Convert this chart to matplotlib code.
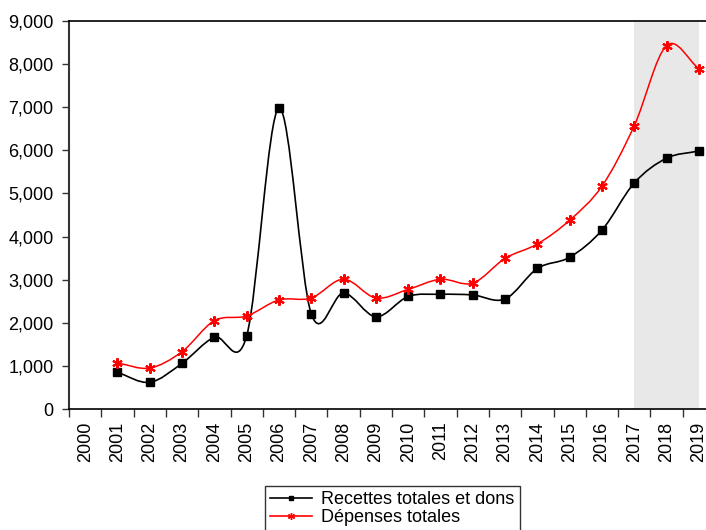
import matplotlib
matplotlib.use("Agg")
import matplotlib.pyplot as plt
import numpy as np
from matplotlib.path import Path
from matplotlib.patches import PathPatch
from matplotlib.lines import Line2D
from matplotlib.ticker import FuncFormatter, FixedLocator

plt.rcParams['font.family'] = ['Liberation Sans', 'DejaVu Sans']

# --- données ---
years = [2001, 2002, 2003, 2004, 2005, 2006, 2007, 2008, 2009, 2010,
         2011, 2012, 2013, 2014, 2015, 2016, 2017, 2018, 2019]
recettes = [850, 620, 1060, 1665, 1695, 6980, 2205, 2690, 2140, 2610,
            2660, 2645, 2552, 3260, 3520, 4150, 5244, 5817, 5986]
depenses = [1067, 951, 1330, 2049, 2158, 2530, 2575, 3012, 2575, 2775,
            3010, 2920, 3495, 3828, 4380, 5170, 6573, 8430, 7896]
label_years = list(range(2000, 2020))
shade_span = (2017, 2019)


def spline_path(x, y):
    # courbe lissée (Catmull-Rom converti en Bezier cubique)
    x = np.asarray(x, float)
    y = np.asarray(y, float)
    n = len(x)
    m = np.empty(n)
    m[1:-1] = (y[2:] - y[:-2]) / 2
    m[0] = y[1] - y[0]
    m[-1] = y[-1] - y[-2]
    verts = [(x[0], y[0])]
    codes = [Path.MOVETO]
    for i in range(n - 1):
        dx = x[i + 1] - x[i]
        verts += [(x[i] + dx / 3, y[i] + m[i] * dx / 3),
                  (x[i + 1] - dx / 3, y[i + 1] - m[i + 1] * dx / 3),
                  (x[i + 1], y[i + 1])]
        codes += [Path.CURVE4] * 3
    return Path(verts, codes)


fig = plt.figure(figsize=(7.06, 5.30), dpi=100)
ax = fig.add_axes([69 / 706, 1 - 409 / 530, 1 - 69 / 706, (409 - 21) / 530])

ax.axvspan(*shade_span, color='#e8e8e8', lw=0, zorder=0)

ax.add_patch(PathPatch(spline_path(years, recettes), fc='none', ec='black', lw=1.2, zorder=2))
ax.add_patch(PathPatch(spline_path(years, depenses), fc='none', ec='red', lw=1.1, zorder=2))
ax.plot(years, recettes, ls='none', marker='s', ms=5.5, color='black', zorder=3)
ax.plot(years, depenses, ls='none', marker=(6, 2, 0), ms=7.5, mew=1.5, color='red', zorder=3)

ax.set_xlim(1999.5, 2019.22)
ax.set_ylim(0, 9000)
ax.set_yticks(np.arange(0, 9001, 1000))
ax.yaxis.set_major_formatter(FuncFormatter(lambda v, p: f"{int(v):,}"))

ax.xaxis.set_major_locator(FixedLocator([yr - 0.5 for yr in label_years]))
ax.xaxis.set_major_formatter(FuncFormatter(lambda v, p: ""))
ax.set_xticks(label_years, [str(yr) for yr in label_years], minor=True)
ax.tick_params(axis='x', which='major', direction='out', length=6, width=1, color='#333333')
ax.tick_params(axis='x', which='minor', length=0, pad=9, labelsize=13, rotation=90)
ax.tick_params(axis='y', direction='out', length=5, width=1, color='#333333', pad=6, labelsize=13)

for s in ['top', 'bottom']:
    ax.spines[s].set_color('black')
    ax.spines[s].set_linewidth(1.2)
ax.spines['left'].set_color('#333333')
ax.spines['left'].set_linewidth(1.5)
ax.spines['right'].set_visible(False)

handles = [Line2D([], [], color='black', lw=1.2, marker='s', ms=3.5),
           Line2D([], [], color='red', lw=1.2, marker=(6, 2, 0), ms=5, mew=1)]
fig.legend(handles, ['Recettes totales et dons', 'Dépenses totales'],
           loc='upper left', bbox_to_anchor=(265 / 706, 1 - 486 / 530),
           frameon=True, fancybox=False, edgecolor='black', fontsize=13,
           handlelength=2.3, handletextpad=0.5, borderpad=0.3, labelspacing=0.05,
           borderaxespad=0)

fig.savefig('out.png', dpi=100)
